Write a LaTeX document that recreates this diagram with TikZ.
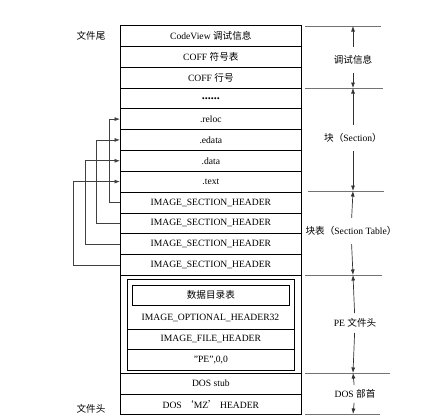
\documentclass[tikz,border=0pt]{standalone}
\usepackage{fontspec}
\setmainfont{Liberation Serif}
\newfontfamily\cjk{Noto Sans CJK SC}
\newcommand\zh[1]{{\cjk #1}}
\usetikzlibrary{arrows.meta}
\begin{document}
\begin{tikzpicture}[x=1bp,y=-1bp,
  font=\fontsize{9.6bp}{11bp}\selectfont,
  row/.style={draw,line width=0.7bp,anchor=north west,minimum width=181bp,inner sep=0pt,minimum height=20.83bp},
  inrow/.style={draw,line width=0.7bp,anchor=north west,minimum width=167bp,inner sep=0pt},
  divline/.style={draw=black!55,line width=0.9bp},
  dimarr/.style={draw=black!80,line width=0.7bp,-{Latex[length=5.5bp,width=4bp]}},
  link/.style={draw=black!75,line width=0.7bp,-{Latex[length=5.5bp,width=4bp]}}]
\useasboundingbox (0,0) rectangle (429,416);
% main stack
\node[row] (r1) at (120,25)     {CodeView \zh{调试信息}};
\node[row] (r2) at (120,45.83)  {COFF \zh{符号表}};
\node[row] (r3) at (120,66.67)  {COFF \zh{行号}};
\node[row] (r4) at (120,87.5)   {\fontsize{12bp}{12bp}\selectfont\bfseries ......};
\node[row] (r5) at (120,108.33) {.reloc};
\node[row] (r6) at (120,129.17) {.edata};
\node[row] (r7) at (120,150)    {.data};
\node[row] (r8) at (120,170.83) {.text};
\node[row] (h1) at (120,191.67) {IMAGE\_SECTION\_HEADER};
\node[row] (h2) at (120,212.5)  {IMAGE\_SECTION\_HEADER};
\node[row] (h3) at (120,233.33) {IMAGE\_SECTION\_HEADER};
\node[row] (h4) at (120,254.17) {IMAGE\_SECTION\_HEADER};
\node[row,minimum height=98bp] (pe) at (120,275) {};
\node[row,minimum height=20.5bp] (stub) at (120,373) {DOS stub};
\node[row,minimum height=20.5bp] (mz) at (120,393.5) {DOS \zh{‘}MZ\zh{’} HEADER};
% PE header inner parts
\node[inrow,minimum height=91bp] (inner) at (127,279) {};
\node[draw,line width=0.7bp,anchor=north west,minimum width=157bp,minimum height=20bp,inner sep=0pt] (dd) at (132,285) {\zh{数据目录表}};
\node (opt) at (210.5,317.5) {IMAGE\_OPTIONAL\_HEADER32};
\node[inrow,minimum height=20bp] (fh) at (127,329) {IMAGE\_FILE\_HEADER};
\node[inrow,minimum height=21bp] (sig) at (127,349) {"PE",0,0};
% left labels
\node (tail) at (91,36) {\zh{文件尾}};
\node (head) at (91,409) {\zh{文件头}};
% section header links
\draw[link] (h1.west) -- ++(-11,0) |- (r5.west);
\draw[link] (h2.west) -- ++(-24,0) |- (r6.west);
\draw[link] (h3.west) -- ++(-35,0) |- (r7.west);
\draw[link] (h4.west) -- ++(-47,0) |- (r8.west);
% right dimension lines
\draw[divline] (305,26) -- (381,26);
\draw[divline] (305,88) -- (383,88);
\draw[divline] (308,191) -- (384,191);
\draw[divline] (305,275) -- (382,275);
\draw[divline] (305,373) -- (390,373);
\draw[divline] (305,414) -- (380,414);
\coordinate (d1) at (353,26);
\coordinate (d2) at (353,88);
\coordinate (d3) at (353,191);
\coordinate (d4) at (353,275);
\coordinate (d5) at (353,373);
\coordinate (d6) at (353,414);
\node (ldbg) at (353,60) {\zh{调试信息}};
\node (lsec) at (353,138) {\zh{块（}Section\zh{）}};
\node (ltab) at (351,231) {\zh{块表（}Section Table\zh{）}};
\node (lpe) at (355,323) {PE \zh{文件头}};
\node (ldos) at (355,394) {DOS \zh{部首}};
\draw[dimarr,shorten <=5bp] (ldbg) -- (d1);
\draw[dimarr,shorten <=5bp] (ldbg) -- (d2);
\draw[dimarr,shorten <=5bp] (lsec) -- (d2);
\draw[dimarr,shorten <=5bp] (lsec) -- (d3);
\draw[dimarr,shorten <=5bp] (ltab) -- (d3);
\draw[dimarr,shorten <=5bp] (ltab) -- (d4);
\draw[dimarr,shorten <=2bp] (lpe) -- (d4);
\draw[dimarr,shorten <=2bp] (lpe) -- (d5);
\draw[dimarr,shorten <=1bp] (ldos) -- (d5);
\draw[dimarr,shorten <=1bp] (ldos) -- (d6);
\end{tikzpicture}
\end{document}
